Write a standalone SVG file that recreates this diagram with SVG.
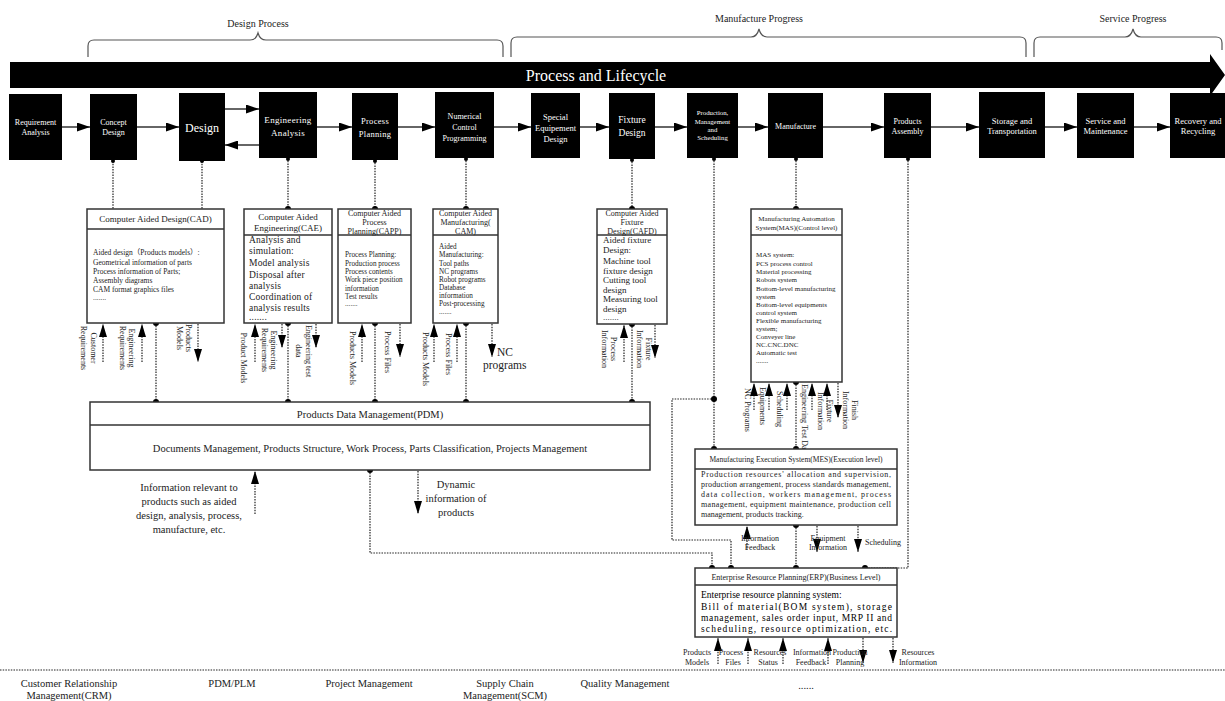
<svg xmlns="http://www.w3.org/2000/svg" width="1225" height="701" viewBox="0 0 1225 701">
<style>
text{font-family:"Liberation Serif","Noto Sans CJK SC",serif;fill:#222}
.bk{fill:#000}
.bt{fill:#fff;text-anchor:middle}
.bx{fill:#fff;stroke:#333;stroke-width:1.5}
.dv{stroke:#333;stroke-width:1.5}
.sl{stroke:#333;stroke-width:1.5;fill:none}
.dl{stroke:#222;stroke-width:1.2;stroke-dasharray:1.5 1.2;fill:none}
.br{stroke:#555;stroke-width:1.2;fill:none}
.c{text-anchor:middle}
.dot{fill:#000}
</style>
<defs>
<marker id="ab" viewBox="0 0 13 9" refX="13" refY="4.5" markerWidth="13" markerHeight="9" markerUnits="userSpaceOnUse" orient="auto"><path d="M0,0 L13,4.5 L0,9 z" fill="#000"/></marker>
<marker id="as" viewBox="0 0 13 8" refX="13" refY="4" markerWidth="13" markerHeight="8" markerUnits="userSpaceOnUse" orient="auto"><path d="M0,0 L13,4 L0,8 z" fill="#000"/></marker>
</defs>

<!-- phase braces -->
<g id="phases">
<path class="br" d="M88,57 V46 Q88,40 94,40 H250 Q256,40 258,33 Q260,40 266,40 H497 Q503,40 503,46 V57"/>
<text x="258" y="27" class="c" font-size="10">Design Process</text>
<path class="br" d="M511,57 V43 Q511,37 517,37 H751 Q757,37 759,29 Q761,37 767,37 H1020 Q1026,37 1026,43 V57"/>
<text x="759" y="22" class="c" font-size="10">Manufacture Progress</text>
<path class="br" d="M1034,57 V43 Q1034,37 1040,37 H1125 Q1131,37 1133,29 Q1135,37 1141,37 H1216 Q1222,37 1222,43 V50"/>
<text x="1133" y="22" class="c" font-size="10">Service Progress</text>
</g>

<!-- lifecycle band -->
<g id="lifecycle">
<polygon class="bk" points="10,62 1210,62 1210,54 1225,75 1210,96 1210,88 10,88"/>
<text x="596" y="81" class="bt" font-size="16">Process and Lifecycle</text>
</g>

<!-- stage boxes -->
<g id="stage-requirement"><rect class="bk" x="9" y="94" width="53" height="66"/><text class="bt" font-size="8"><tspan x="35.5" y="125">Requirement</tspan><tspan x="35.5" y="135">Analysis</tspan></text></g>
<g id="stage-concept"><rect class="bk" x="90" y="94" width="47" height="66"/><text class="bt" font-size="8"><tspan x="113.5" y="125">Concept</tspan><tspan x="113.5" y="135">Design</tspan></text></g>
<g id="stage-design"><rect class="bk" x="179" y="93" width="46" height="68"/><text class="bt" font-size="12" x="202" y="132">Design</text></g>
<g id="stage-engineering"><rect class="bk" x="259" y="92" width="58" height="66"/><text class="bt" font-size="9" letter-spacing="0.3"><tspan x="288" y="123">Engineering</tspan><tspan x="288" y="136">Analysis</tspan></text></g>
<g id="stage-planning"><rect class="bk" x="352" y="93" width="46" height="67"/><text class="bt" font-size="8.5" letter-spacing="0.3"><tspan x="375" y="124">Process</tspan><tspan x="375" y="137">Planning</tspan></text></g>
<g id="stage-nc"><rect class="bk" x="435" y="92" width="59" height="66"/><text class="bt" font-size="8"><tspan x="464.5" y="119">Numerical</tspan><tspan x="464.5" y="130">Control</tspan><tspan x="464.5" y="141">Programming</tspan></text></g>
<g id="stage-equipment"><rect class="bk" x="531" y="93" width="49" height="65"/><text class="bt" font-size="8.5"><tspan x="555.5" y="120">Special</tspan><tspan x="555.5" y="131">Equipement</tspan><tspan x="555.5" y="142">Design</tspan></text></g>
<g id="stage-fixture"><rect class="bk" x="609" y="93" width="46" height="66"/><text class="bt" font-size="9.5"><tspan x="632" y="123">Fixture</tspan><tspan x="632" y="136">Design</tspan></text></g>
<g id="stage-scheduling"><rect class="bk" x="687" y="93" width="51" height="65"/><text class="bt" font-size="6.8"><tspan x="712.5" y="115">Production,</tspan><tspan x="712.5" y="124">Management</tspan><tspan x="712.5" y="132">and</tspan><tspan x="712.5" y="140">Scheduling</tspan></text></g>
<g id="stage-manufacture"><rect class="bk" x="768" y="93" width="55" height="65"/><text class="bt" font-size="8" x="795.5" y="129">Manufacture</text></g>
<g id="stage-assembly"><rect class="bk" x="884" y="93" width="47" height="65"/><text class="bt" font-size="8"><tspan x="907.5" y="124">Products</tspan><tspan x="907.5" y="134">Assembly</tspan></text></g>
<g id="stage-storage"><rect class="bk" x="979" y="92" width="66" height="66"/><text class="bt" font-size="8.5"><tspan x="1012" y="124">Storage and</tspan><tspan x="1012" y="134">Transportation</tspan></text></g>
<g id="stage-service"><rect class="bk" x="1077" y="93" width="57" height="65"/><text class="bt" font-size="8.5"><tspan x="1105.5" y="124">Service and</tspan><tspan x="1105.5" y="134">Maintenance</tspan></text></g>
<g id="stage-recovery"><rect class="bk" x="1170" y="93" width="56" height="65"/><text class="bt" font-size="8.5"><tspan x="1198" y="124">Recovery and</tspan><tspan x="1198" y="134">Recycling</tspan></text></g>

<!-- labels under the MAS box, partly covered by the MES box -->
<g id="mas-io-labels" font-size="8">
<text transform="translate(747,410) rotate(90)" class="c" y="2.5">NC Programs</text>
<text transform="translate(762,406) rotate(90)" class="c" y="2.5">Equipments</text>
<text transform="translate(779,409) rotate(90)" class="c" y="2.5">Scheduling</text>
<text transform="translate(804,384) rotate(90)" y="2.5">Engineering Test Data</text>
<text transform="translate(829,411) rotate(90)" class="c" y="2.5">Fixture</text>
<text transform="translate(820,411) rotate(90)" class="c" y="2.5">Information</text>
<text transform="translate(854,410) rotate(90)" class="c" y="2.5">Finish</text>
<text transform="translate(845,410) rotate(90)" class="c" y="2.5">Information</text>
</g>

<!-- connectors -->
<g id="connectors">
<!-- stage flow -->
<line class="sl" x1="62" y1="127" x2="90" y2="127" marker-end="url(#ab)"/>
<line class="sl" x1="137" y1="127" x2="179" y2="127" marker-end="url(#ab)"/>
<line class="sl" x1="225" y1="109" x2="259" y2="109" marker-end="url(#ab)"/>
<line class="sl" x1="259" y1="145" x2="225" y2="145" marker-end="url(#ab)"/>
<line class="sl" x1="317" y1="127" x2="352" y2="127" marker-end="url(#ab)"/>
<line class="sl" x1="398" y1="127" x2="435" y2="127" marker-end="url(#ab)"/>
<line class="sl" x1="494" y1="127" x2="531" y2="127" marker-end="url(#ab)"/>
<line class="sl" x1="580" y1="127" x2="609" y2="127" marker-end="url(#ab)"/>
<line class="sl" x1="655" y1="127" x2="687" y2="127" marker-end="url(#ab)"/>
<line class="sl" x1="738" y1="127" x2="768" y2="127" marker-end="url(#ab)"/>
<line class="sl" x1="823" y1="127" x2="884" y2="127" marker-end="url(#ab)"/>
<line class="sl" x1="931" y1="127" x2="979" y2="127" marker-end="url(#ab)"/>
<line class="sl" x1="1045" y1="127" x2="1077" y2="127" marker-end="url(#ab)"/>
<line class="sl" x1="1134" y1="127" x2="1170" y2="127" marker-end="url(#ab)"/>

<!-- stage to system links -->
<path class="dl" d="M113,161 V209"/>
<path class="dl" d="M202,161 V209"/>
<path class="dl" d="M288,158 V209"/>
<path class="dl" d="M375,160 V209"/>
<path class="dl" d="M466,158 V209"/>
<path class="dl" d="M632,159 V209"/>
<path class="dl" d="M714,158 V449"/>
<path class="dl" d="M796,158 V209"/>
<path class="dl" d="M908,158 V568 H865"/>
<!-- systems to PDM -->
<path class="dl" d="M156,323 V402"/>
<path class="dl" d="M288,323 V402"/>
<path class="dl" d="M375,323 V402"/>
<path class="dl" d="M466,323 V402"/>
<path class="dl" d="M632,324 V402"/>
<!-- execution chain -->
<path class="dl" d="M796,382 V449"/>
<path class="dl" d="M796,525 V568"/>
<path class="dl" d="M714,399 H672 V540 H731 V568"/>
<path class="dl" d="M370,470 V553 H712 V568"/>
<!-- divider of the lower band -->
<path class="dl" d="M0,670 H1225"/>

<g id="dots">
<circle class="dot" cx="113" cy="161" r="2"/><circle class="dot" cx="202" cy="161" r="2"/><circle class="dot" cx="288" cy="159" r="2"/><circle class="dot" cx="375" cy="161" r="2"/><circle class="dot" cx="466" cy="159" r="2"/><circle class="dot" cx="632" cy="160" r="2"/><circle class="dot" cx="714" cy="159" r="2"/><circle class="dot" cx="796" cy="159" r="2"/><circle class="dot" cx="908" cy="159" r="2"/>
<circle class="dot" cx="288" cy="209" r="3"/><circle class="dot" cx="375" cy="209" r="3"/><circle class="dot" cx="466" cy="209" r="3"/><circle class="dot" cx="632" cy="209" r="3"/><circle class="dot" cx="796" cy="209" r="3"/>
<circle class="dot" cx="156" cy="323" r="3"/><circle class="dot" cx="288" cy="323" r="3"/><circle class="dot" cx="375" cy="323" r="3"/><circle class="dot" cx="466" cy="323" r="3"/><circle class="dot" cx="632" cy="324" r="3"/>
<circle class="dot" cx="156" cy="402" r="3"/><circle class="dot" cx="288" cy="402" r="3"/><circle class="dot" cx="375" cy="402" r="3"/><circle class="dot" cx="466" cy="402" r="3"/><circle class="dot" cx="632" cy="402" r="3"/>
<circle class="dot" cx="370" cy="470" r="3"/>
<circle class="dot" cx="796" cy="382" r="3"/><circle class="dot" cx="714" cy="399" r="3"/>
<circle class="dot" cx="714" cy="449" r="3"/><circle class="dot" cx="796" cy="449" r="3"/>
<circle class="dot" cx="796" cy="525" r="3"/>
<circle class="dot" cx="712" cy="568" r="3"/><circle class="dot" cx="731" cy="568" r="3"/><circle class="dot" cx="796" cy="568" r="3"/><circle class="dot" cx="865" cy="568" r="3"/>
</g>

<!-- input / output flows -->
<path class="dl" d="M103,362 V324" marker-end="url(#as)"/>
<path class="dl" d="M142,362 V324" marker-end="url(#as)"/>
<path class="dl" d="M198,324 V362" marker-end="url(#as)"/>
<path class="dl" d="M255,362 V324" marker-end="url(#as)"/>
<path class="dl" d="M282,324 V348" marker-end="url(#as)"/>
<path class="dl" d="M316,324 V348" marker-end="url(#as)"/>
<path class="dl" d="M362,362 V324" marker-end="url(#as)"/>
<path class="dl" d="M400,324 V357" marker-end="url(#as)"/>
<path class="dl" d="M434,362 V324" marker-end="url(#as)"/>
<path class="dl" d="M457,362 V324" marker-end="url(#as)"/>
<path class="dl" d="M492,324 V357" marker-end="url(#as)"/>
<path class="dl" d="M624,362 V325" marker-end="url(#as)"/>
<path class="dl" d="M655,325 V358" marker-end="url(#as)"/>
<path class="dl" d="M754,410 V383" marker-end="url(#as)"/>
<path class="dl" d="M769,410 V383" marker-end="url(#as)"/>
<path class="dl" d="M787,410 V383" marker-end="url(#as)"/>
<path class="dl" d="M812,410 V383" marker-end="url(#as)"/>
<path class="dl" d="M827,410 V383" marker-end="url(#as)"/>
<path class="dl" d="M838,383 V418" marker-end="url(#as)"/>
<path class="dl" d="M255,514 V471" marker-end="url(#as)"/>
<path class="dl" d="M418,471 V514" marker-end="url(#as)"/>
<path class="dl" d="M747,550 V526" marker-end="url(#as)"/>
<path class="dl" d="M817,526 V552" marker-end="url(#as)"/>
<path class="dl" d="M858,526 V552" marker-end="url(#as)"/>
<path class="dl" d="M718,664 V638" marker-end="url(#as)"/>
<path class="dl" d="M748,664 V638" marker-end="url(#as)"/>
<path class="dl" d="M783,664 V638" marker-end="url(#as)"/>
<path class="dl" d="M828,664 V638" marker-end="url(#as)"/>
<path class="dl" d="M863,638 V663" marker-end="url(#as)"/>
<path class="dl" d="M893,638 V663" marker-end="url(#as)"/>
</g>

<!-- flow labels -->
<g id="flow-labels" font-size="8">
<text transform="translate(93,348) rotate(90)" class="c" y="2.5">Customer</text>
<text transform="translate(83,348) rotate(90)" class="c" y="2.5">Requirements</text>
<text transform="translate(131,348) rotate(90)" class="c" y="2.5">Engineering</text>
<text transform="translate(122,348) rotate(90)" class="c" y="2.5">Requirements</text>
<text transform="translate(188,338) rotate(90)" class="c" y="2.5">Products</text>
<text transform="translate(179,338) rotate(90)" class="c" y="2.5">Models</text>
<text transform="translate(243,358) rotate(90)" class="c" y="2.5">Product Models</text>
<text transform="translate(273,350) rotate(90)" class="c" y="2.5">Engineering</text>
<text transform="translate(264,350) rotate(90)" class="c" y="2.5">Requirements</text>
<text transform="translate(308,351) rotate(90)" class="c" y="2.5">Engineering test</text>
<text transform="translate(298,351) rotate(90)" class="c" y="2.5">data</text>
<text transform="translate(352,358) rotate(90)" class="c" y="2.5">Products Models</text>
<text transform="translate(387,352) rotate(90)" class="c" y="2.5">Process Files</text>
<text transform="translate(425,359) rotate(90)" class="c" y="2.5">Products Models</text>
<text transform="translate(448,354) rotate(90)" class="c" y="2.5">Process Files</text>
<text x="497" y="356" font-size="11.5">NC</text>
<text x="483" y="369" font-size="11.5">programs</text>
<text transform="translate(613,349) rotate(90)" class="c" y="2.5">Process</text>
<text transform="translate(604,349) rotate(90)" class="c" y="2.5">Information</text>
<text transform="translate(648,349) rotate(90)" class="c" y="2.5">Fixture</text>
<text transform="translate(639,349) rotate(90)" class="c" y="2.5">Information</text>
<text class="c" font-size="10.5"><tspan x="189" y="491">Information relevant to</tspan><tspan x="189" y="505">products such as aided</tspan><tspan x="189" y="519">design, analysis, process,</tspan><tspan x="189" y="533">manufacture, etc.</tspan></text>
<text class="c" font-size="10.5"><tspan x="456" y="488">Dynamic</tspan><tspan x="456" y="502">information of</tspan><tspan x="456" y="516">products</tspan></text>
<text class="c"><tspan x="760" y="541">Information</tspan><tspan x="760" y="550">Feedback</tspan></text>
<text class="c"><tspan x="828" y="541">Equipment</tspan><tspan x="828" y="550">Information</tspan></text>
<text x="865" y="545">Scheduling</text>
<text class="c"><tspan x="697" y="655">Products</tspan><tspan x="697" y="665">Models</tspan></text>
<text class="c"><tspan x="731" y="655">Process</tspan><tspan x="733" y="665">Files</tspan></text>
<text class="c"><tspan x="770" y="655">Resources</tspan><tspan x="768" y="665">Status</tspan></text>
<text class="c"><tspan x="812" y="655">Information</tspan><tspan x="811" y="665">Feedback</tspan></text>
<text class="c"><tspan x="850" y="655">Production</tspan><tspan x="850" y="665">Planning</tspan></text>
<text class="c"><tspan x="918" y="655">Resources</tspan><tspan x="918" y="665">Information</tspan></text>
</g>

<!-- system boxes -->
<g id="cad">
<rect class="bx" x="87" y="209" width="137" height="114"/><line class="dv" x1="87" y1="229" x2="224" y2="229"/>
<text x="155.5" y="222" class="c" font-size="9">Computer Aided Design(CAD)</text>
<text font-size="7.5"><tspan x="93" y="255">Aided design（Products models）:</tspan><tspan x="93" y="265">Geometrical information of parts</tspan><tspan x="93" y="274">Process information of Parts;</tspan><tspan x="93" y="283">Assembly diagrams</tspan><tspan x="93" y="292">CAM format graphics files</tspan><tspan x="93" y="300">.......</tspan></text>
</g>
<g id="cae">
<rect class="bx" x="244" y="209" width="88" height="114"/><line class="dv" x1="244" y1="235" x2="332" y2="235"/>
<text class="c" font-size="9"><tspan x="288" y="220">Computer Aided</tspan><tspan x="288" y="231">Engineering(CAE)</tspan></text>
<text font-size="9.5" letter-spacing="0.2"><tspan x="249" y="243">Analysis and</tspan><tspan x="249" y="254">simulation:</tspan><tspan x="249" y="266">Model analysis</tspan><tspan x="249" y="278">Disposal after</tspan><tspan x="249" y="289">analysis</tspan><tspan x="249" y="300">Coordination of</tspan><tspan x="249" y="311">analysis results</tspan><tspan x="249" y="320">.......</tspan></text>
</g>
<g id="capp">
<rect class="bx" x="338" y="209" width="73" height="114"/><line class="dv" x1="338" y1="235" x2="411" y2="235"/>
<text class="c" font-size="8"><tspan x="374.5" y="216">Computer Aided</tspan><tspan x="374.5" y="225">Process</tspan><tspan x="374.5" y="234">Planning(CAPP)</tspan></text>
<text font-size="7.2"><tspan x="345" y="257">Process Planning:</tspan><tspan x="345" y="266">Production process</tspan><tspan x="345" y="274">Process contents</tspan><tspan x="345" y="282">Work piece position</tspan><tspan x="345" y="291">information</tspan><tspan x="345" y="299">Test results</tspan><tspan x="345" y="306">.......</tspan></text>
</g>
<g id="cam">
<rect class="bx" x="433" y="209" width="65" height="114"/><line class="dv" x1="433" y1="235" x2="498" y2="235"/>
<text class="c" font-size="8"><tspan x="465.5" y="216">Computer Aided</tspan><tspan x="465.5" y="225">Manufacturing(</tspan><tspan x="465.5" y="234">CAM)</tspan></text>
<text font-size="7.2"><tspan x="439" y="249">Aided</tspan><tspan x="439" y="257">Manufacturing:</tspan><tspan x="439" y="266">Tool paths</tspan><tspan x="439" y="274">NC programs</tspan><tspan x="439" y="282">Robot programs</tspan><tspan x="439" y="290">Database</tspan><tspan x="439" y="298">information</tspan><tspan x="439" y="306">Post-processing</tspan><tspan x="439" y="314">.......</tspan></text>
</g>
<g id="cafd">
<rect class="bx" x="597" y="209" width="70" height="115"/><line class="dv" x1="597" y1="235" x2="667" y2="235"/>
<text class="c" font-size="8"><tspan x="632" y="216">Computer Aided</tspan><tspan x="632" y="225">Fixture</tspan><tspan x="632" y="234">Design(CAFD)</tspan></text>
<text font-size="9"><tspan x="603" y="243">Aided fixture</tspan><tspan x="603" y="253">Design:</tspan><tspan x="603" y="264">Machine tool</tspan><tspan x="603" y="274">fixture design</tspan><tspan x="603" y="283">Cutting tool</tspan><tspan x="603" y="293">design</tspan><tspan x="603" y="302">Measuring tool</tspan><tspan x="603" y="312">design</tspan><tspan x="603" y="320">.......</tspan></text>
</g>
<g id="mas">
<rect class="bx" x="751" y="209" width="91" height="173"/><line class="dv" x1="751" y1="235" x2="842" y2="235"/>
<text class="c" font-size="7"><tspan x="796.5" y="221">Manufacturing Automation</tspan><tspan x="796.5" y="230">System(MAS)(Control level)</tspan></text>
<text font-size="7"><tspan x="756" y="257">MAS system:</tspan><tspan x="756" y="266">PCS process control</tspan><tspan x="756" y="274">Material processing</tspan><tspan x="756" y="282">Robots system</tspan><tspan x="756" y="291">Bottom-level manufacturing</tspan><tspan x="756" y="299">system</tspan><tspan x="756" y="307">Bottom-level equipments</tspan><tspan x="756" y="315">control system</tspan><tspan x="756" y="323">Flexible manufacturing</tspan><tspan x="756" y="331">system;</tspan><tspan x="756" y="339">Conveyer line</tspan><tspan x="756" y="347">NC.CNC.DNC</tspan><tspan x="756" y="355">Automatic test</tspan><tspan x="756" y="363">.......</tspan></text>
</g>
<g id="pdm">
<rect class="bx" x="90" y="402" width="560" height="68"/><line class="dv" x1="90" y1="425" x2="650" y2="425"/>
<text x="370" y="418" class="c" font-size="10.5">Products Data Management(PDM)</text>
<text x="370" y="452" class="c" font-size="10.5">Documents Management, Products Structure, Work Process, Parts Classification, Projects Management</text>
</g>
<g id="mes">
<rect class="bx" x="695" y="449" width="202" height="76"/><line class="dv" x1="695" y1="469" x2="897" y2="469"/>
<text x="796" y="462" class="c" font-size="7.5">Manufacturing Execution System(MES)(Execution level)</text>
<text font-size="8" lengthAdjust="spacing">
<tspan x="701" y="477" textLength="190">Production resources' allocation and supervision,</tspan>
<tspan x="701" y="487" textLength="190">production arrangement, process standards management,</tspan>
<tspan x="701" y="497" textLength="190">data collection, workers management, process</tspan>
<tspan x="701" y="507" textLength="190">management, equipment maintenance, production cell</tspan>
<tspan x="701" y="517">management, products tracking.</tspan>
</text>
</g>
<g id="erp">
<rect class="bx" x="695" y="568" width="202" height="69"/><line class="dv" x1="695" y1="585" x2="897" y2="585"/>
<text x="796" y="580" class="c" font-size="8">Enterprise Resource Planning(ERP)(Business Level)</text>
<text font-size="9.5" style="fill:#000" lengthAdjust="spacing">
<tspan x="701" y="598">Enterprise resource planning system:</tspan>
<tspan x="701" y="610" textLength="191">Bill of material(BOM system), storage</tspan>
<tspan x="701" y="621" textLength="191">management, sales order input, MRP II and</tspan>
<tspan x="701" y="632" textLength="191">scheduling, resource optimization, etc.</tspan>
</text>
</g>

<!-- enterprise applications band -->
<g id="applications" font-size="10.5">
<text class="c"><tspan x="69" y="687">Customer Relationship</tspan><tspan x="69" y="699">Management(CRM)</tspan></text>
<text x="232" y="687" class="c">PDM/PLM</text>
<text x="369" y="687" class="c">Project Management</text>
<text class="c"><tspan x="505" y="687">Supply Chain</tspan><tspan x="505" y="699">Management(SCM)</tspan></text>
<text x="625" y="687" class="c">Quality Management</text>
<text x="806" y="689" class="c">......</text>
</g>
</svg>
